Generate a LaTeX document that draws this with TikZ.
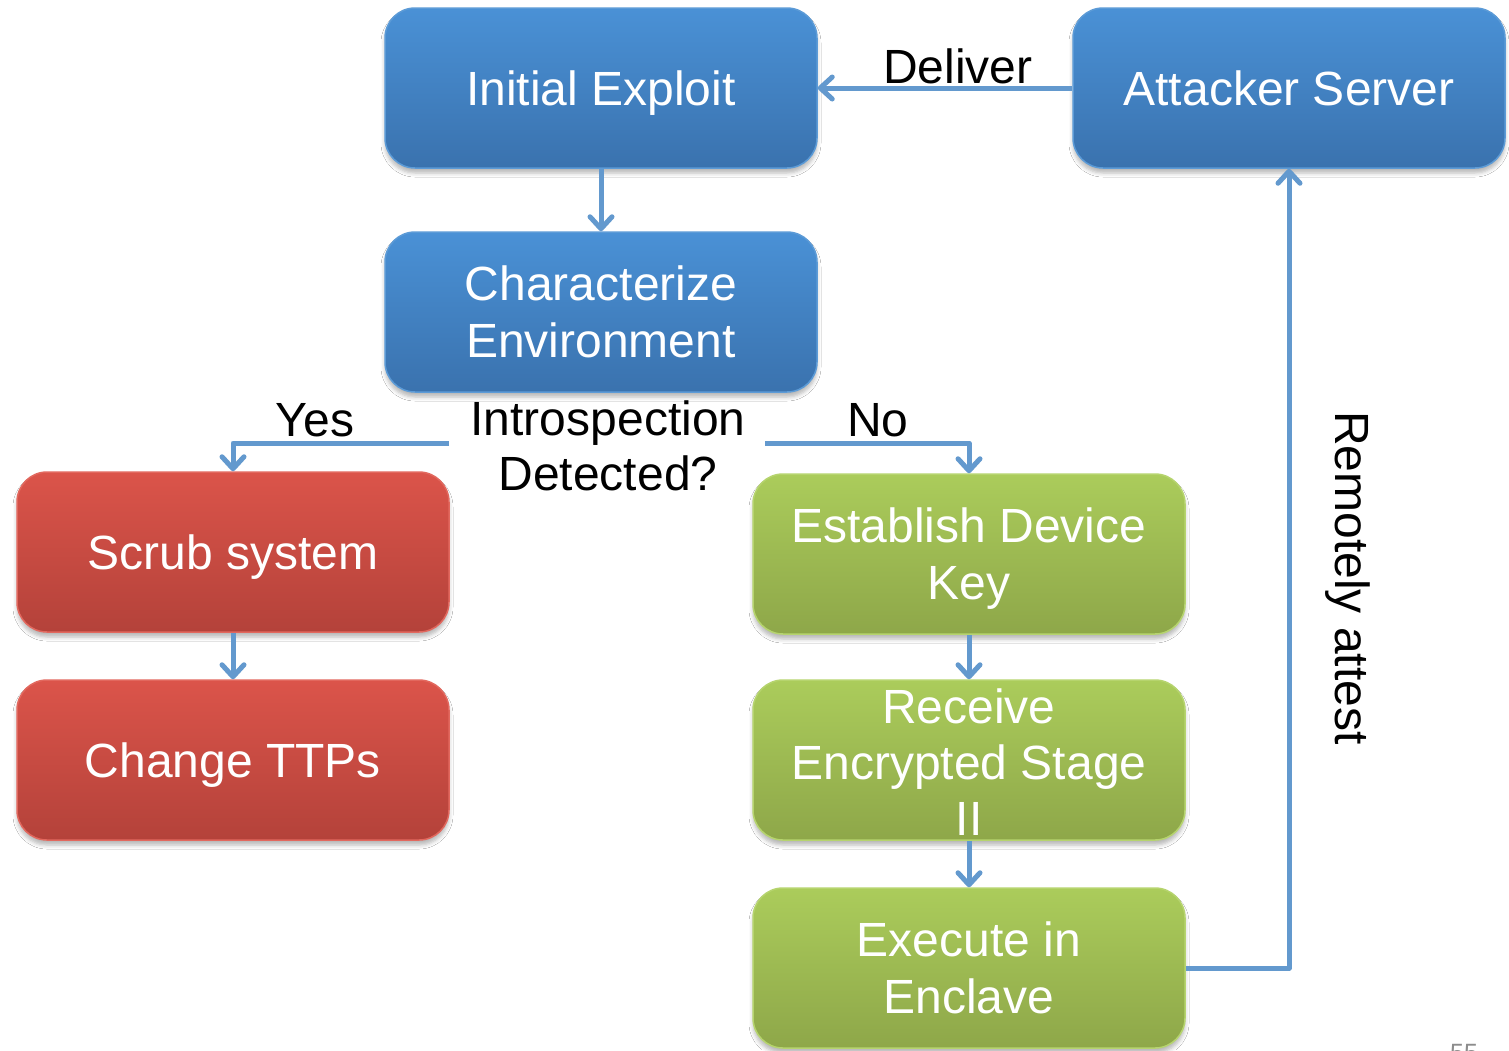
\documentclass[tikz,border=0pt]{standalone}
\usepackage{fontspec}
\setmainfont{Liberation Sans}
\usetikzlibrary{arrows.meta,shadows.blur}
\definecolor{bluetop}{RGB}{74,145,214}
\definecolor{bluebot}{RGB}{58,114,174}
\definecolor{blueedge}{RGB}{92,155,215}
\definecolor{redtop}{RGB}{219,84,74}
\definecolor{redbot}{RGB}{180,66,58}
\definecolor{rededge}{RGB}{226,104,94}
\definecolor{greentop}{RGB}{171,204,91}
\definecolor{greenbot}{RGB}{142,167,73}
\definecolor{greenedge}{RGB}{182,212,110}
\definecolor{connc}{RGB}{99,153,206}
\definecolor{pagenum}{RGB}{140,140,140}
\newcommand\onelinetext[1]{\raisebox{-17pt}[0pt][0pt]{#1}}
\tikzset{
  box/.style={rectangle, rounded corners=30pt, minimum width=432pt, minimum height=160pt,
    inner sep=0pt, align=center, text=white, line width=1.5pt,
    font=\fontsize{48}{57}\selectfont,
    blur shadow={shadow xshift=0pt, shadow yshift=-5pt,
      shadow blur radius=4pt, shadow opacity=28}},
  bbox/.style={box, draw=blueedge, top color=bluetop, bottom color=bluebot},
  rbox/.style={box, draw=rededge, top color=redtop, bottom color=redbot},
  gbox/.style={box, draw=greenedge, top color=greentop, bottom color=greenbot},
  boxtext/.style={align=center, text=white, inner sep=0pt, font=\fontsize{48}{56}\selectfont},
  lbl/.style={align=center, text=black, inner sep=0pt, font=\fontsize{48}{55}\selectfont},
  conn/.style={draw=connc, line width=5pt, line join=round,
    -{Straight Barb[length=12pt, width=22pt, round]}},
}
\begin{document}
\begin{tikzpicture}[x=1pt, y=-1pt]
\useasboundingbox (0,0) rectangle (1509,1050);
\fill[white] (0,0) rectangle (1509,1050);

\node[bbox] (initial) at (601,88) {\onelinetext{Initial Exploit}};
\node[bbox] (attacker) at (1289,88) {\onelinetext{Attacker Server}};
\node[bbox] (charac) at (601,312) {Characterize\\Environment};
\node[rbox] (scrub) at (233,552) {\onelinetext{Scrub system}};
\node[rbox] (change) at (233,760) {\onelinetext{Change TTPs}};
\node[gbox] (establish) at (969,554) {Establish Device\\Ke\smash{y}};
\node[gbox] (recv) at (969,760) {};
\node[boxtext] (recvtext) at (969,762) {Receive\\Encrypted Stage\\II};
\node[gbox] (execute) at (969,968) {Execute in\\Enclave};

\node[lbl] (deliver) at (958,66) {Deliver};
\node[lbl] (intro) at (608,446) {Introspection\\Detected?};
\node[lbl] (yes) at (315,420) {Yes};
\node[lbl] (no) at (878,420) {No};
\node[lbl, rotate=-90] (attest) at (1348,578) {Remotely attest};

\coordinate (yesstart) at (449,443);
\coordinate (nostart) at (765,443);

\draw[conn] (attacker.west) -- (initial.east);
\draw[conn] (initial.south) -- (charac.north);
\draw[conn] (yesstart) -| (scrub.north);
\draw[conn] (nostart) -| (establish.north);
\draw[conn] (scrub.south) -- (change.north);
\draw[conn] (establish.south) -- (recv.north);
\draw[conn] (recv.south) -- (execute.north);
\draw[conn] (execute.east) -| (attacker.south);

\node[text=pagenum, inner sep=0pt, font=\fontsize{25}{30}\selectfont] (page) at (1464,1053) {55};
\end{tikzpicture}
\end{document}
